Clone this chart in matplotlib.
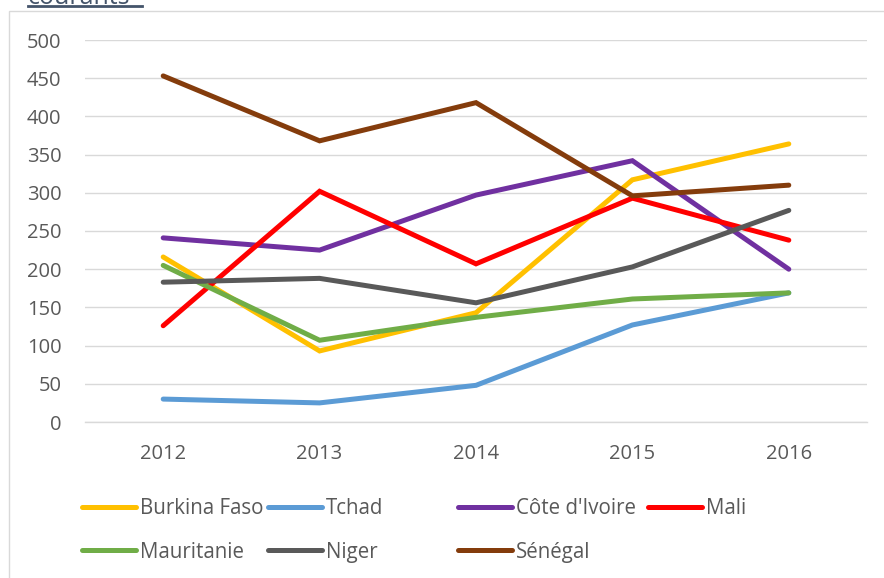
import matplotlib.pyplot as plt
from matplotlib.lines import Line2D
from matplotlib.patches import Rectangle

# Data
years = ['2012', '2013', '2014', '2015', '2016']
burkina = [216, 93, 143, 317, 364]
tchad = [30, 25, 48, 127, 169]
cote_ivoire = [241, 225, 297, 342, 200]
mali = [126, 302, 207, 293, 238]
mauritanie = [205, 107, 137, 161, 169]
niger = [183, 188, 156, 203, 277]
senegal = [453, 368, 418, 296, 310]

series = [
    ('Burkina Faso', burkina, '#FFC000'),
    ('Tchad', tchad, '#5B9BD5'),
    ("Côte d'Ivoire", cote_ivoire, '#7030A0'),
    ('Mali', mali, '#FF0000'),
    ('Mauritanie', mauritanie, '#70AD47'),
    ('Niger', niger, '#595959'),
    ('Sénégal', senegal, '#843C0C'),
]

plt.rcParams['font.family'] = ['Open Sans', 'DejaVu Sans']
W, H = 884, 578
fig = plt.figure(figsize=(W / 100, H / 100), dpi=100)
ax = fig.add_axes([85 / W, 1 - 422 / H, (867 - 85) / W, (422 - 40) / H])

x = list(range(len(years)))
handles = {}
for name, vals, col in series:
    ln, = ax.plot(x, vals, color=col, lw=3.6, solid_capstyle='round',
                  solid_joinstyle='miter', label=name, zorder=3)
    handles[name] = ln

ax.set_xlim(-0.5, len(years) - 0.5)
ax.set_ylim(0, 500)
ax.set_yticks(range(0, 501, 50))
ax.set_xticks(x)
ax.set_xticklabels(years)
ax.yaxis.grid(True, color='#D9D9D9', lw=1.0, zorder=0)
for s in ['top', 'right', 'left']:
    ax.spines[s].set_visible(False)
ax.spines['bottom'].set_color('#D9D9D9')
ax.spines['bottom'].set_linewidth(1.0)
ax.tick_params(length=0, labelsize=14.5, labelcolor='#595959')
ax.tick_params(axis='y', pad=17)
ax.tick_params(axis='x', pad=16)

# chart border
fig.patches.append(Rectangle((9 / W, -0.1), 1.2, 1 - 11 / H + 0.1,
                             transform=fig.transFigure, fill=False,
                             edgecolor='#D9D9D9', lw=1.0))

# cut-off title above the chart
fig.text(28 / W, 1 - 4 / H, 'courants', fontsize=18, color='#44546A',
         va='baseline', ha='left')
fig.add_artist(Line2D([28 / W, 142 / W], [1 - 5.5 / H, 1 - 5.5 / H],
                      transform=fig.transFigure, color='#44546A', lw=2))

# legend laid out in fixed columns like Excel
cols = [['Burkina Faso', 'Mauritanie'], ['Tchad', 'Niger'],
        ["Côte d'Ivoire", 'Sénégal'], ['Mali']]
col_x = [82, 268, 458, 648]
for names, cx in zip(cols, col_x):
    leg = fig.legend([handles[n] for n in names], names, loc='upper left',
                     bbox_to_anchor=(cx / W, 1 - 498 / H), frameon=False,
                     fontsize=14.8, handlelength=2.65, handletextpad=0.15,
                     labelspacing=1.1, borderpad=0, borderaxespad=0)
    for t in leg.get_texts():
        t.set_color('#595959')

fig.savefig('out.png', dpi=100)
